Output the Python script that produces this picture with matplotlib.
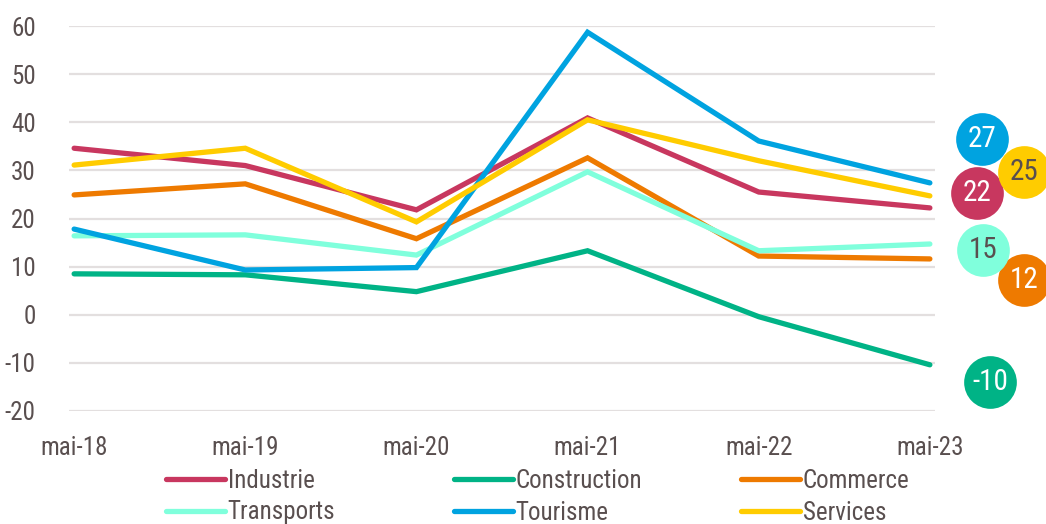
import matplotlib
matplotlib.use("Agg")
import matplotlib.pyplot as plt
from matplotlib.transforms import offset_copy

plt.rcParams['font.family'] = ["Roboto Condensed", 'DejaVu Sans']
plt.rcParams['axes.unicode_minus'] = False

periods = ["mai-18", "mai-19", "mai-20", "mai-21", "mai-22", "mai-23"]
industrie = [34.6, 31.0, 21.8, 40.9, 25.5, 22.2]
construction = [8.5, 8.3, 4.8, 13.3, -0.4, -10.4]
commerce = [24.9, 27.2, 15.8, 32.6, 12.2, 11.6]
transports = [16.4, 16.6, 12.4, 29.7, 13.3, 14.7]
tourisme = [17.8, 9.3, 9.8, 58.7, 36.1, 27.4]
services = [31.1, 34.6, 19.3, 40.5, 32.0, 24.7]

series = [
    ("Industrie", industrie, "#C8375F", "white", (47, 15)),
    ("Construction", construction, "#00B386", "white", (60, -17)),
    ("Commerce", commerce, "#EE7A00", "white", (94, -21)),
    ("Transports", transports, "#80FFDC", "#594f4f", (53, -6)),
    ("Tourisme", tourisme, "#00A3E0", "white", (52, 44)),
    ("Services", services, "#FFCC00", "#594f4f", (94, 24)),
]

TXT = "#594f4f"
fig = plt.figure(figsize=(10.46, 5.24), dpi=100)
ax = fig.add_axes([69/1046, 1 - 411/524, (935-69)/1046, (411-26)/524])
x = list(range(len(periods)))

handles = {}
for name, vals, col, tcol, off in series:
    h, = ax.plot(x, vals, color=col, lw=3.8, solid_capstyle='round',
                 solid_joinstyle='miter', label=name, zorder=3)
    handles[name] = h

for name, vals, col, tcol, off in series:
    tr = offset_copy(ax.transData, fig=fig, x=off[0], y=off[1], units='dots')
    ax.scatter([x[-1]], [vals[-1]], s=1440, color=col, transform=tr,
               clip_on=False, zorder=5, linewidths=0)
    ax.text(x[-1], vals[-1], f"{round(vals[-1]):d}", transform=tr, ha='center',
            va='center', color=tcol, fontsize=21, zorder=6, clip_on=False)

ax.set_xlim(-0.03, 5.03)
ax.set_ylim(-20, 60)
ax.set_yticks(range(-20, 61, 10))
ax.set_xticks(x)
ax.set_xticklabels(periods)
ax.grid(axis='y', color='#e3dfdf', lw=1.6, zorder=0)
ax.set_axisbelow(True)
for s in ax.spines.values():
    s.set_visible(False)
ax.tick_params(axis='both', length=0, labelsize=18, colors=TXT)
ax.tick_params(axis='y', pad=24)
ax.tick_params(axis='x', pad=18)

columns = [["Industrie", "Transports"], ["Construction", "Tourisme"], ["Commerce", "Services"]]
col_x = [166, 454, 741]
for names, cx in zip(columns, col_x):
    leg = fig.legend([handles[n] for n in names], names, loc='upper left',
                     bbox_to_anchor=(cx/1046, 1 - 469/524), frameon=False, fontsize=18,
                     handlelength=2.35, handletextpad=0.12, labelspacing=0.3,
                     borderaxespad=0, borderpad=0)
    for t in leg.get_texts():
        t.set_color(TXT)

fig.savefig("out.png", dpi=100)
